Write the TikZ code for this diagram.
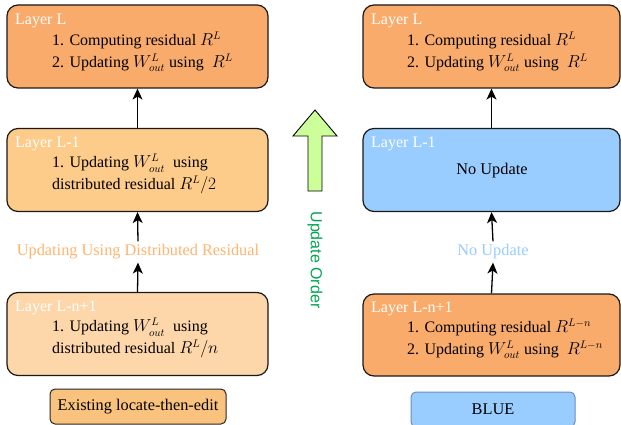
\documentclass[tikz,border=0pt]{standalone}
\usepackage{fontspec}
\setmainfont{Liberation Serif}
\newfontfamily\sansf{Liberation Sans}
\usetikzlibrary{arrows.meta}
\definecolor{orgA}{HTML}{F9AB6B}
\definecolor{orgB}{HTML}{FDCB8A}
\definecolor{orgC}{HTML}{FDD6AA}
\definecolor{orgD}{HTML}{FAC37D}
\definecolor{blueA}{HTML}{99CCFF}
\definecolor{blueS}{HTML}{6C8EBF}
\definecolor{greenA}{HTML}{CCFF99}
\definecolor{greenT}{HTML}{00A651}
\definecolor{orgT}{HTML}{FFB570}
\begin{document}
\begin{tikzpicture}[x=1pt,y=-1pt,
  layerbox/.style={draw=black!90, line width=1.2pt, rounded corners=11pt, inner sep=0pt},
  layertitle/.style={text=white, anchor=base west, inner sep=0pt, font=\fontsize{16}{19}\selectfont},
  body/.style={anchor=west, align=left, inner sep=0pt, font=\fontsize{16}{21.5}\selectfont},
  midtext/.style={font=\fontsize{16.3}{19}\selectfont, inner sep=3pt},
  conn/.style={line width=1.3pt, -{Stealth[length=11pt,width=10pt,inset=3pt]}},
  legend/.style={rounded corners=5pt, line width=1pt, minimum height=35pt, inner sep=0pt, font=\fontsize{16.3}{19}\selectfont}
]
\clip (0,0) rectangle (621,425);
\fill[white] (0,0) rectangle (621,425);

% ---------- left column ----------
\node[layerbox, fill=orgA, minimum width=261pt, minimum height=83pt] (lL) at (137.5,46.5) {};
\node[layertitle] (lLt) at (15,25) {Layer L};
\node[body] (lLb) at (52,52) {1. Computing residual $R^L$\\2. Updating $W_{out}^{L}$ using \ $R^L$};

\node[layerbox, fill=orgB, minimum width=261pt, minimum height=83pt] (lL1) at (137.5,170) {};
\node[layertitle] (lL1t) at (15,147) {Layer L-1};
\node[body] (lL1b) at (52,174) {1. Updating $W_{out}^{L}$ \ using\\distributed residual $R^L/2$};

\node[midtext, text=orgT] (lmid) at (138,252) {Updating Using Distributed Residual};

\node[layerbox, fill=orgC, minimum width=261pt, minimum height=83pt] (lLn) at (137.5,334) {};
\node[layertitle] (lLnt) at (15,311) {Layer L-n+1};
\node[body] (lLnb) at (52,338) {1. Updating $W_{out}^{L}$ \ using\\distributed residual $R^L/n$};

\node[legend, draw=black!85, fill=orgD, minimum width=176pt] (legA) at (138,406.5) {Existing locate-then-edit};

\draw[conn] (lL1.north) -- (lL.south);
\draw[conn] (lmid.north) -- (lL1.south);
\draw[conn] (lLn.north) -- (lmid.south);

% ---------- update order arrow ----------
\draw[fill=greenA, line width=0.9pt, line join=miter]
  (308,191) -- (308,136) -- (293,136) -- (315,110) -- (337,136) -- (322,136) -- (322,191) -- cycle;
\node[rotate=-90, text=greenT, font=\sansf\fontsize{16}{19}\selectfont, inner sep=0pt] (uord) at (315,260) {Update Order};

% ---------- right column ----------
\node[layerbox, fill=orgA, minimum width=257pt, minimum height=83pt] (rL) at (491.5,46.5) {};
\node[layertitle] (rLt) at (371,25) {Layer L};
\node[body] (rLb) at (407,52) {1. Computing residual $R^L$\\2. Updating $W_{out}^{L}$ using \ $R^L$};

\node[layerbox, fill=blueA, minimum width=257pt, minimum height=83pt] (rL1) at (491.5,170) {};
\node[layertitle] (rL1t) at (371,147) {Layer L-1};
\node[font=\fontsize{16.3}{19}\selectfont] (rL1b) at (492,171) {No Update};

\node[midtext, text=blueA] (rmid) at (493,252) {No Update};

\node[layerbox, fill=orgA, minimum width=257pt, minimum height=82pt] (rLn) at (491.5,335) {};
\node[layertitle] (rLnt) at (371,312) {Layer L-n+1};
\node[body] (rLnb) at (407,339) {1. Computing residual $R^{L-n}$\\2. Updating $W_{out}^{L}$ using \ $R^{L-n}$};

\node[legend, draw=blueS, fill=blueA, minimum width=164pt] (legB) at (493,409.5) {BLUE};

\draw[conn] (rL1.north) -- (rL.south);
\draw[conn] (rmid.north) -- (rL1.south);
\draw[conn] (rLn.north) -- (rmid.south);
\end{tikzpicture}
\end{document}
